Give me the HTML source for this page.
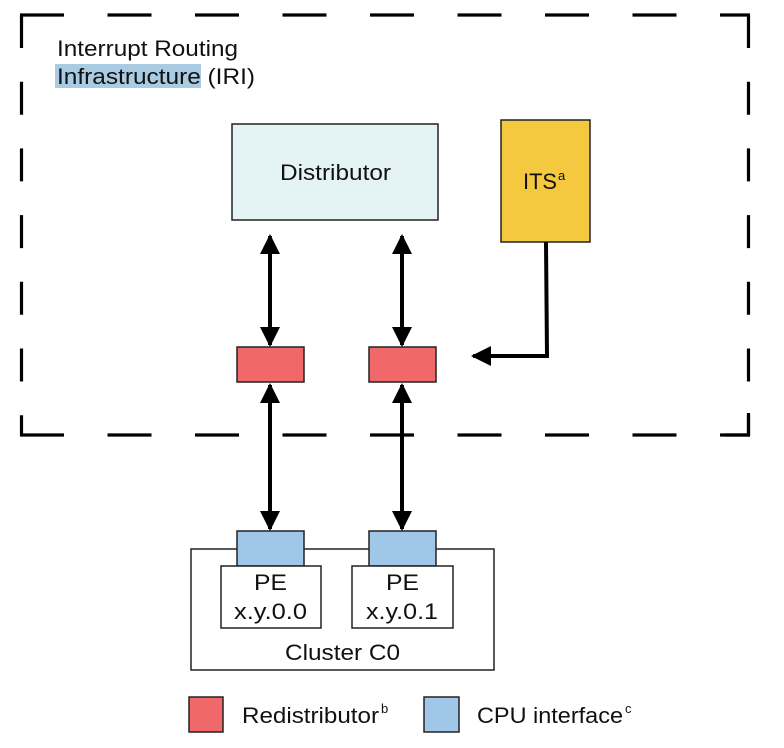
<!DOCTYPE html>
<html><head><style>
body{margin:0;background:#fff;}
svg{display:block;}
text{font-family:"Liberation Sans",Arial,sans-serif;fill:#111;}
</style></head><body>
<svg width="784" height="748" viewBox="0 0 784 748" xmlns="http://www.w3.org/2000/svg">
<defs>
<marker id="ah" markerWidth="5" markerHeight="5" refX="4.5" refY="2.5" orient="auto-start-reverse" markerUnits="strokeWidth">
<path d="M0,0 L5,2.5 L0,5 Z" fill="#000"/>
</marker>
</defs>
<g stroke="#000" stroke-width="3.2" fill="none">
<line x1="20" y1="15" x2="750" y2="15" stroke-dasharray="44 43.5"/>
<line x1="20" y1="435" x2="750" y2="435" stroke-dasharray="44 43.5"/>
<line x1="21.5" y1="15" x2="21.5" y2="435" stroke-dasharray="33 33.7"/>
<line x1="748.5" y1="15" x2="748.5" y2="435" stroke-dasharray="33 33.7"/>
<line x1="748.5" y1="413" x2="748.5" y2="436"/>
<line x1="725" y1="435" x2="750" y2="435"/>
</g>
<rect x="55" y="64" width="146" height="24" fill="#a9cbe3"/>
<text x="57" y="56" font-size="22" textLength="181" lengthAdjust="spacingAndGlyphs">Interrupt Routing</text>
<text x="57" y="84" font-size="22" textLength="198" lengthAdjust="spacingAndGlyphs">Infrastructure (IRI)</text>

<rect x="232" y="124" width="206" height="96" fill="#e4f4f4" stroke="#222" stroke-width="1.5"/>
<text x="280" y="180" font-size="22" textLength="111" lengthAdjust="spacingAndGlyphs">Distributor</text>

<rect x="501" y="120" width="89" height="122" fill="#f4c83f" stroke="#222" stroke-width="1.5"/>
<text x="523" y="189" font-size="22" textLength="34" lengthAdjust="spacingAndGlyphs">ITS</text>
<text x="558" y="180" font-size="13">a</text>

<g stroke="#000" stroke-width="4" fill="none" marker-start="url(#ah)" marker-end="url(#ah)">
<line x1="270" y1="236" x2="270" y2="345"/>
<line x1="402" y1="236" x2="402" y2="345"/>
<line x1="270" y1="385" x2="270" y2="529"/>
<line x1="402" y1="385" x2="402" y2="529"/>
</g>
<polyline points="546,242 547,356 473,356" stroke="#000" stroke-width="4" fill="none" marker-end="url(#ah)"/>

<rect x="237" y="347" width="67" height="35" fill="#f0686a" stroke="#222" stroke-width="1.5"/>
<rect x="369" y="347" width="67" height="35" fill="#f0686a" stroke="#222" stroke-width="1.5"/>

<rect x="191" y="549" width="303" height="121" fill="#fff" stroke="#222" stroke-width="1.5"/>
<rect x="237" y="531" width="67" height="35" fill="#a0c6e8" stroke="#222" stroke-width="1.5"/>
<rect x="369" y="531" width="67" height="35" fill="#a0c6e8" stroke="#222" stroke-width="1.5"/>
<rect x="221" y="566" width="100" height="62" fill="#fff" stroke="#222" stroke-width="1.5"/>
<rect x="352" y="566" width="101" height="62" fill="#fff" stroke="#222" stroke-width="1.5"/>
<text x="254" y="590" font-size="22" textLength="33" lengthAdjust="spacingAndGlyphs">PE</text>
<text x="234" y="619" font-size="22" textLength="73" lengthAdjust="spacingAndGlyphs">x.y.0.0</text>
<text x="386" y="590" font-size="22" textLength="33" lengthAdjust="spacingAndGlyphs">PE</text>
<text x="366" y="619" font-size="22" textLength="72" lengthAdjust="spacingAndGlyphs">x.y.0.1</text>
<text x="285" y="660" font-size="22" textLength="115" lengthAdjust="spacingAndGlyphs">Cluster C0</text>

<rect x="189" y="697" width="34" height="35" fill="#f0686a" stroke="#222" stroke-width="1.5"/>
<text x="242" y="723" font-size="22" textLength="137" lengthAdjust="spacingAndGlyphs">Redistributor</text>
<text x="381" y="713" font-size="13">b</text>
<rect x="424" y="697" width="35" height="35" fill="#a0c6e8" stroke="#222" stroke-width="1.5"/>
<text x="477" y="723" font-size="22" textLength="146" lengthAdjust="spacingAndGlyphs">CPU interface</text>
<text x="625" y="713" font-size="13">c</text>
</svg>
</body></html>
